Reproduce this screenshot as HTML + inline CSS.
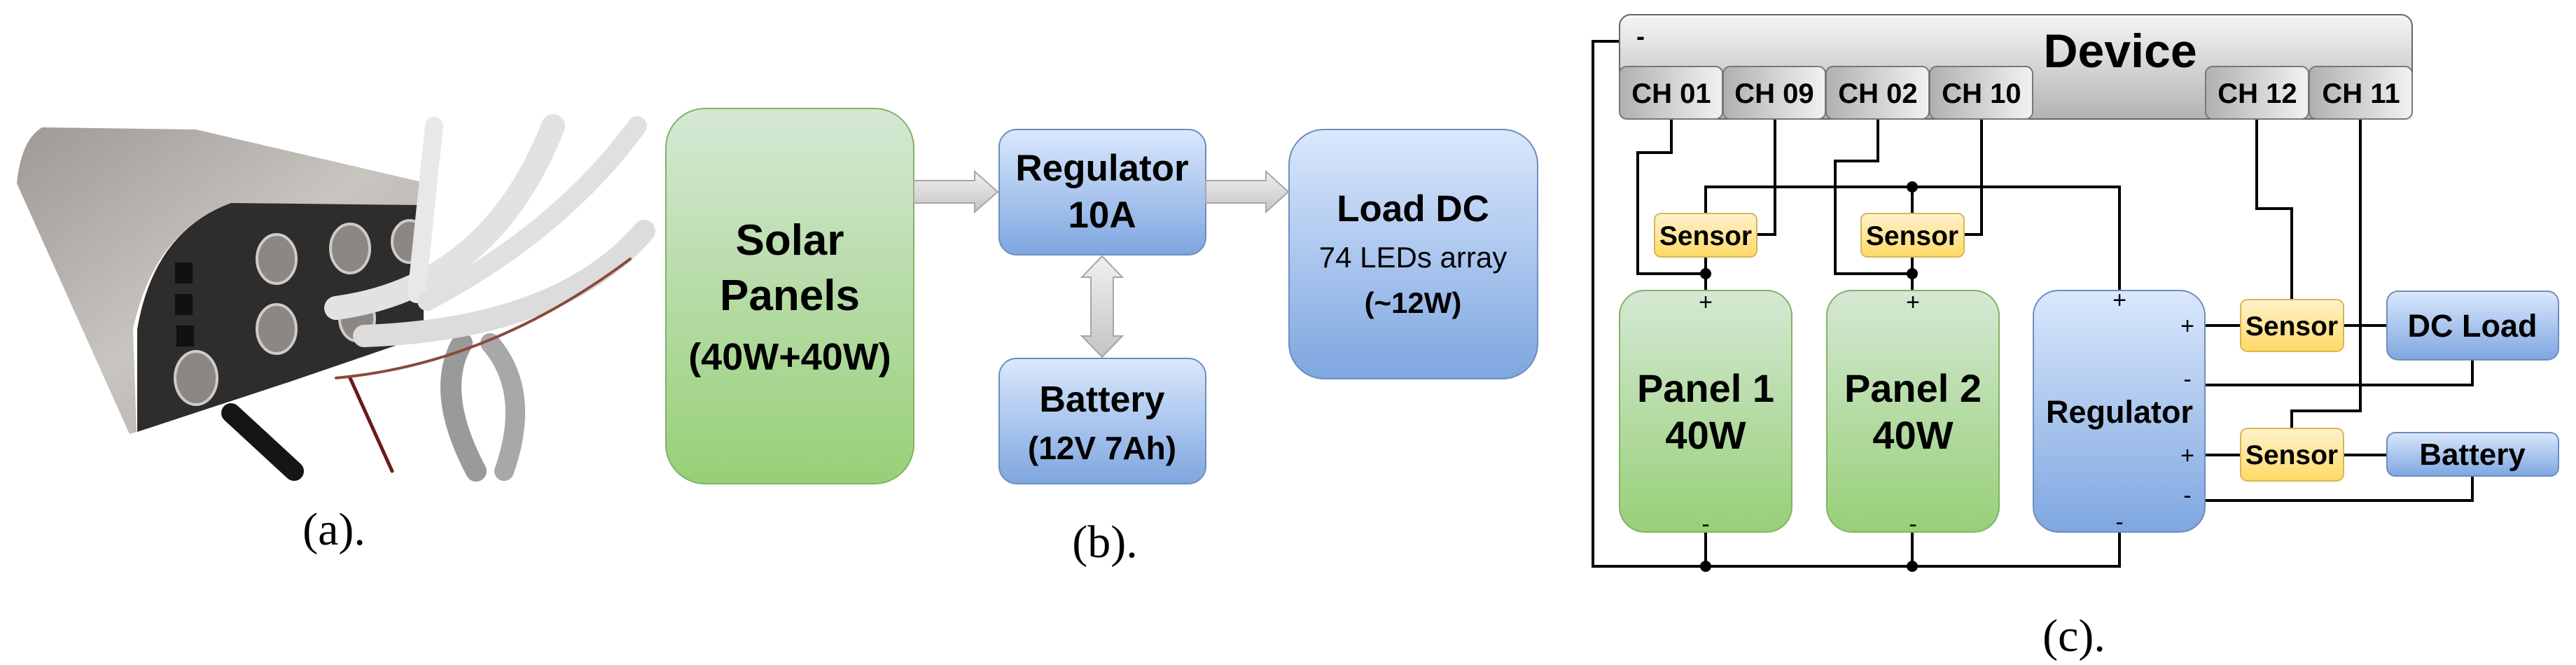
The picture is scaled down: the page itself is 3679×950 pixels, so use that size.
<!DOCTYPE html>
<html><head><meta charset="utf-8"><style>
html,body{margin:0;padding:0;background:#fff;}
svg{display:block;}
text{font-family:"Liberation Sans",Arial,sans-serif;font-weight:bold;fill:#000;}
.ser{font-family:"Liberation Serif",serif;font-weight:normal;}
</style></head><body>
<svg width="3679" height="950" viewBox="0 0 3679 950" xmlns="http://www.w3.org/2000/svg">
<defs>
<linearGradient id="gG" x1="0" y1="0" x2="0" y2="1"><stop offset="0" stop-color="#d5e8d4"/><stop offset="1" stop-color="#97d077"/></linearGradient>
<linearGradient id="gB" x1="0" y1="0" x2="0" y2="1"><stop offset="0" stop-color="#dae8fc"/><stop offset="1" stop-color="#7ea6e0"/></linearGradient>
<linearGradient id="gY" x1="0" y1="0" x2="0" y2="1"><stop offset="0" stop-color="#fff2cc"/><stop offset="1" stop-color="#ffd966"/></linearGradient>
<linearGradient id="gD" x1="0" y1="0" x2="0" y2="1"><stop offset="0" stop-color="#f5f5f5"/><stop offset="1" stop-color="#b3b3b3"/></linearGradient>
<linearGradient id="gT" x1="0" y1="0" x2="1" y2="0"><stop offset="0" stop-color="#b0b0b0"/><stop offset="1" stop-color="#f2f2f2"/></linearGradient>
<linearGradient id="gA" x1="0" y1="0" x2="0" y2="1"><stop offset="0" stop-color="#f0f0f0"/><stop offset="1" stop-color="#c4c4c4"/></linearGradient>
<linearGradient id="gM" x1="0" y1="0" x2="1" y2="1"><stop offset="0" stop-color="#9e9994"/><stop offset="0.5" stop-color="#c8c4bf"/><stop offset="1" stop-color="#a8a39e"/></linearGradient>
</defs>

<!-- (a) photo approximation -->
<path d="M60 182 L280 185 L611 262 L611 300 L330 290 Q220 330 190 470 L195 617 L185 620 L24 262 Q30 200 60 182 Z" fill="url(#gM)"/>
<path d="M330 290 L605 293 L605 480 L415 545 L196 617 L196 470 Q220 330 330 290 Z" fill="#2e2d2c"/>
<g fill="#111"><rect x="250" y="375" width="25" height="30"/><rect x="250" y="420" width="25" height="30"/><rect x="252" y="465" width="25" height="30"/></g>
<g fill="#8c8782" stroke="#ccc" stroke-width="4">
<ellipse cx="395" cy="370" rx="28" ry="35"/><ellipse cx="500" cy="355" rx="28" ry="35"/><ellipse cx="585" cy="345" rx="25" ry="30"/>
<ellipse cx="395" cy="470" rx="28" ry="35"/><ellipse cx="510" cy="455" rx="25" ry="32"/><ellipse cx="280" cy="540" rx="30" ry="38"/>
</g>
<g fill="none" stroke-linecap="round">
<path d="M330 590 L420 673" stroke="#151515" stroke-width="28"/>
<path d="M500 540 L560 673" stroke="#6a1a1a" stroke-width="5"/>
<path d="M660 490 Q620 560 680 673" stroke="#9a9a9a" stroke-width="30"/>
<path d="M700 490 Q760 560 720 673" stroke="#a8a8a8" stroke-width="28"/>
<path d="M480 440 Q700 410 790 180" stroke="#e2e2e2" stroke-width="34"/>
<path d="M520 480 Q800 470 920 330" stroke="#dcdcdc" stroke-width="32"/>
<path d="M620 180 L595 420" stroke="#e8e8e8" stroke-width="26"/>
<path d="M610 430 Q800 330 910 180" stroke="#e0e0e0" stroke-width="28"/>
<path d="M480 540 Q700 520 900 370" stroke="#8a4a3a" stroke-width="4"/>
</g>
<text class="ser" x="477" y="778" font-size="66" text-anchor="middle">(a).</text>

<!-- (b) -->
<rect x="951" y="155" width="354" height="536" rx="56" fill="url(#gG)" stroke="#82b366" stroke-width="2"/>
<text x="1128" y="364" font-size="62" text-anchor="middle">Solar</text>
<text x="1128" y="443" font-size="62" text-anchor="middle">Panels</text>
<text x="1128" y="528" font-size="54" text-anchor="middle">(40W+40W)</text>

<rect x="1427" y="185" width="295" height="179" rx="25" fill="url(#gB)" stroke="#6c8ebf" stroke-width="2"/>
<text x="1574" y="258" font-size="53" text-anchor="middle">Regulator</text>
<text x="1574" y="325" font-size="53" text-anchor="middle">10A</text>

<rect x="1427" y="512" width="295" height="179" rx="25" fill="url(#gB)" stroke="#6c8ebf" stroke-width="2"/>
<text x="1574" y="588" font-size="52" text-anchor="middle">Battery</text>
<text x="1574" y="656" font-size="46" text-anchor="middle">(12V 7Ah)</text>

<rect x="1841" y="185" width="355" height="356" rx="50" fill="url(#gB)" stroke="#6c8ebf" stroke-width="2"/>
<text x="2018" y="316" font-size="53" text-anchor="middle">Load DC</text>
<text x="2018" y="382" font-size="42" font-weight="normal" style="font-weight:normal" text-anchor="middle">74 LEDs array</text>
<text x="2018" y="447" font-size="42" text-anchor="middle">(~12W)</text>

<g fill="url(#gA)" stroke="#a6a6a6" stroke-width="2">
<path d="M1305 258 L1392 258 L1392 245 L1425 274 L1392 303 L1392 290 L1305 290 Z"/>
<path d="M1722 258 L1808 258 L1808 245 L1840 274 L1808 303 L1808 290 L1722 290 Z"/>
<path d="M1574 366 L1603 396 L1590 396 L1590 480 L1603 480 L1574 510 L1545 480 L1558 480 L1558 396 L1545 396 Z"/>
</g>
<text class="ser" x="1578" y="796" font-size="66" text-anchor="middle">(b).</text>

<!-- (c) wires -->
<g fill="none" stroke="#000" stroke-width="4">
<path d="M2313 59 L2275 59 L2275 809 L3027 809 L3027 760"/>
<path d="M2436 760 L2436 809 M2731 760 L2731 809"/>
<path d="M2387 170 L2387 218 L2339 218 L2339 391 L2436 391 L2436 415"/>
<path d="M2436 367 L2436 391"/>
<path d="M2535 170 L2535 335 L2509 335"/>
<path d="M2436 305 L2436 267 L3027 267 L3027 415"/>
<path d="M2731 267 L2731 305 M2731 367 L2731 415"/>
<path d="M2682 170 L2682 230 L2621 230 L2621 391 L2731 391"/>
<path d="M2830 170 L2830 335 L2805 335"/>
<path d="M3223 170 L3223 298 L3273 298 L3273 428"/>
<path d="M3371 170 L3371 587 L3273 587 L3273 612"/>
<path d="M3149 465 L3409 465"/>
<path d="M3149 550 L3531 550 L3531 514"/>
<path d="M3149 650 L3409 650"/>
<path d="M3149 715 L3531 715 L3531 680"/>
</g>
<g fill="#000">
<circle cx="2436" cy="391" r="8"/><circle cx="2731" cy="391" r="8"/><circle cx="2731" cy="267" r="8"/>
<circle cx="2436" cy="809" r="8"/><circle cx="2731" cy="809" r="8"/>
</g>

<!-- device -->
<rect x="2313" y="21" width="1132" height="149" rx="16" fill="url(#gD)" stroke="#666" stroke-width="2"/>
<text x="2337" y="64" font-size="36" font-weight="normal">-</text>
<text x="3028" y="96" font-size="68" text-anchor="middle">Device</text>
<g stroke="#777" stroke-width="2" fill="url(#gT)">
<rect x="2313" y="95" width="147" height="75" rx="10"/>
<rect x="2461" y="95" width="146" height="75" rx="10"/>
<rect x="2608" y="95" width="147" height="75" rx="10"/>
<rect x="2756" y="95" width="147" height="75" rx="10"/>
<rect x="3150" y="95" width="147" height="75" rx="10"/>
<rect x="3298" y="95" width="147" height="75" rx="10"/>
</g>
<g font-size="40" text-anchor="middle">
<text x="2387" y="147">CH 01</text><text x="2534" y="147">CH 09</text><text x="2682" y="147">CH 02</text>
<text x="2830" y="147">CH 10</text><text x="3224" y="147">CH 12</text><text x="3372" y="147">CH 11</text>
</g>

<!-- sensors -->
<g fill="url(#gY)" stroke="#d6b656" stroke-width="2">
<rect x="2363" y="305" width="146" height="62" rx="9"/>
<rect x="2658" y="305" width="147" height="62" rx="9"/>
<rect x="3200" y="428" width="147" height="74" rx="10"/>
<rect x="3200" y="612" width="147" height="75" rx="10"/>
</g>
<g font-size="39" text-anchor="middle">
<text x="2436" y="350">Sensor</text><text x="2731" y="350">Sensor</text>
<text x="3273" y="479">Sensor</text><text x="3273" y="663">Sensor</text>
</g>

<!-- panels & regulator -->
<rect x="2313" y="415" width="246" height="345" rx="36" fill="url(#gG)" stroke="#82b366" stroke-width="2"/>
<rect x="2609" y="415" width="246" height="345" rx="36" fill="url(#gG)" stroke="#82b366" stroke-width="2"/>
<rect x="2904" y="415" width="245" height="345" rx="36" fill="url(#gB)" stroke="#6c8ebf" stroke-width="2"/>
<g font-size="56" text-anchor="middle">
<text x="2436" y="574">Panel 1</text><text x="2436" y="641">40W</text>
<text x="2732" y="574">Panel 2</text><text x="2732" y="641">40W</text>
</g>
<text x="3027" y="604" font-size="45" text-anchor="middle">Regulator</text>
<g font-size="34" font-weight="normal" text-anchor="middle" style="font-weight:normal">
<text x="2436" y="443" style="font-weight:normal">+</text><text x="2732" y="443" style="font-weight:normal">+</text><text x="3027" y="440" style="font-weight:normal">+</text>
<text x="2436" y="760" style="font-weight:normal">-</text><text x="2732" y="760" style="font-weight:normal">-</text><text x="3027" y="757" style="font-weight:normal">-</text>
<text x="3124" y="477" style="font-weight:normal">+</text><text x="3124" y="553" style="font-weight:normal">-</text>
<text x="3124" y="662" style="font-weight:normal">+</text><text x="3124" y="719" style="font-weight:normal">-</text>
</g>

<rect x="3409" y="416" width="245" height="98" rx="16" fill="url(#gB)" stroke="#6c8ebf" stroke-width="2"/>
<text x="3531" y="481" font-size="45" text-anchor="middle">DC Load</text>
<rect x="3409" y="618" width="245" height="62" rx="12" fill="url(#gB)" stroke="#6c8ebf" stroke-width="2"/>
<text x="3531" y="664" font-size="44" text-anchor="middle">Battery</text>

<text class="ser" x="2962" y="930" font-size="66" text-anchor="middle">(c).</text>
</svg>
</body></html>
